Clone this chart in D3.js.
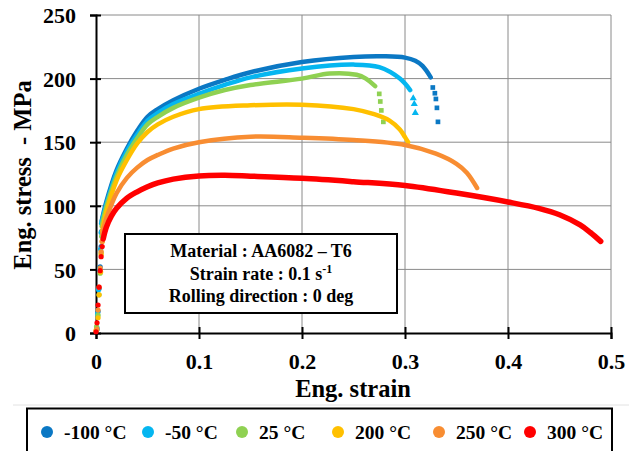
<!DOCTYPE html>
<html>
<head>
<meta charset="utf-8">
<script src="https://cdn.jsdelivr.net/npm/d3@7"></script>
<style>
  html, body { margin: 0; padding: 0; background: #fff; }
  svg { display: block; }
</style>
</head>
<body>
<svg id="chart" width="629" height="451"></svg>
<script>
// ── Data ─────────────────────────────────────────────────────────────
const SERIES = ["-100 °C", "-50 °C", "25 °C", "200 °C", "250 °C", "300 °C"];
const COLORS = ["#0B78C4", "#05B6F0", "#8FD152", "#FFC000", "#F88D32", "#FF0000"];
const TAIL_SHAPES = ["square", "triangle", "square", "circle", "circle", "circle"];

const X_TICKS = [0, 0.1, 0.2, 0.3, 0.4, 0.5];
const Y_TICKS = [0, 50, 100, 150, 200, 250];

// sparse elastic points [strain, stress]
const ELASTIC_M100 = [[0.001,3],[0.002,17],[0.003,35],[0.004,52],[0.005,68],[0.0055,80]];
const ELASTIC_M50  = [[0.001,4],[0.0015,15],[0.0025,34],[0.0035,50],[0.0045,66],[0.005,79]];
const ELASTIC_25   = [[0.0005,5],[0.002,14],[0.003,30],[0.004,47],[0.005,63],[0.0055,76]];
const ELASTIC_200  = [[0.0,2],[0.002,12],[0.003,30],[0.0045,48],[0.005,62],[0.006,72]];
const ELASTIC_250  = [[0.001,3],[0.002,18],[0.003,36],[0.004,51],[0.005,64],[0.006,72]];
const ELASTIC_300  = [[0.0,1],[0.001,8],[0.002,22],[0.003,36],[0.004,49],[0.005,60],[0.006,68]];

// dense plastic curves [strain, stress]
const CURVE_M100 = [[0.0055,88],[0.01,103],[0.02,128],[0.03,145],[0.04,159],[0.05,170],[0.06,176],[0.075,183],[0.1,192],[0.125,199],[0.15,205],[0.2,213],[0.25,217],[0.28,217.5],[0.3,216.5],[0.31,214],[0.317,210],[0.325,201]];
const CURVE_M50  = [[0.005,86],[0.01,101],[0.02,126],[0.03,143],[0.04,156],[0.05,167],[0.06,173],[0.075,180],[0.1,188],[0.125,195],[0.15,201],[0.2,208],[0.25,211],[0.275,209],[0.295,200],[0.305,191]];
const CURVE_25   = [[0.0055,84],[0.01,99],[0.02,123],[0.03,140],[0.04,153],[0.05,164],[0.06,170],[0.075,177],[0.1,185],[0.125,191],[0.15,195],[0.2,200],[0.227,204],[0.253,203],[0.262,200],[0.271,194]];
const CURVE_200  = [[0.006,80],[0.01,95],[0.02,120],[0.03,136],[0.04,149],[0.05,158],[0.06,164],[0.075,170],[0.1,176],[0.15,179],[0.2,179.5],[0.25,176],[0.27,172],[0.285,167],[0.295,160],[0.3,154],[0.303,150]];
const CURVE_250  = [[0.006,78],[0.01,90],[0.015,101],[0.02,110],[0.03,122],[0.04,130],[0.05,136],[0.06,140],[0.075,145],[0.1,150],[0.15,154.3],[0.2,153.5],[0.25,151.7],[0.3,147.8],[0.33,141],[0.35,133],[0.36,126],[0.37,114]];
const CURVE_300  = [[0.007,74],[0.01,83],[0.015,92],[0.02,98],[0.03,106],[0.04,111],[0.05,115],[0.06,118],[0.075,121],[0.1,123.5],[0.125,124],[0.15,123.3],[0.2,121.6],[0.25,119],[0.3,116],[0.35,110],[0.4,103],[0.43,98],[0.45,93],[0.47,85],[0.48,79],[0.49,72]];

// sparse fracture points [strain, stress]
const TAIL_M100 = [[0.327,193],[0.329,188.5],[0.330,184],[0.331,177],[0.332,166]];
const TAIL_M50  = [[0.308,184.5],[0.309,180],[0.310,173]];
const TAIL_25   = [[0.275,188],[0.276,182],[0.277,175],[0.279,166]];

const ELASTIC = [ELASTIC_M100, ELASTIC_M50, ELASTIC_25, ELASTIC_200, ELASTIC_250, ELASTIC_300];
const CURVES  = [CURVE_M100, CURVE_M50, CURVE_25, CURVE_200, CURVE_250, CURVE_300];
const TAILS   = [TAIL_M100, TAIL_M50, TAIL_25, [], [], []];

const NOTE_LINES = ["Material : AA6082 – T6", "Strain rate : 0.1 s", "Rolling direction : 0 deg"];

// ── Setup ───────────────────────────────────────────────────────────
const FONT = "Liberation Serif";
const svg = d3.select("#chart");
const x = d3.scaleLinear().domain([0, 0.5]).range([96, 611]);
const y = d3.scaleLinear().domain([0, 250]).range([333, 15]);

// grid
const grid = svg.append("g").attr("stroke", "#8a8a8a").attr("stroke-width", 1);
grid.selectAll("line.gx").data(X_TICKS.slice(1)).join("line")
  .attr("class", "gx")
  .attr("x1", d => x(d)).attr("x2", d => x(d))
  .attr("y1", y(250)).attr("y2", y(0));
grid.selectAll("line.gy").data(Y_TICKS.slice(1)).join("line")
  .attr("class", "gy")
  .attr("x1", x(0)).attr("x2", x(0.5))
  .attr("y1", d => y(d)).attr("y2", d => y(d));

// axes
const xAxis = d3.axisBottom(x).tickValues(X_TICKS).tickFormat(d => d === 0 ? "0" : d3.format(".1f")(d)).tickSize(6);
const yAxis = d3.axisLeft(y).tickValues(Y_TICKS).tickSize(6);

const gx = svg.append("g").attr("transform", `translate(0,${y(0)})`).call(xAxis);
const gy = svg.append("g").attr("transform", `translate(${x(0)},0)`).call(yAxis);
[gx, gy].forEach(g => {
  g.attr("font-family", FONT).attr("font-size", 22).attr("font-weight", "bold");
  g.select(".domain").attr("stroke", "#000").attr("stroke-width", 2);
  g.selectAll(".tick line").attr("stroke", "#000").attr("stroke-width", 2);
  g.selectAll("text").attr("fill", "#000");
});
gx.selectAll(".tick line").attr("y1", -6).attr("y2", 6);
gx.selectAll(".tick text").attr("y", 20);
gy.selectAll(".tick line").attr("x1", 5).attr("x2", -6);
gy.selectAll(".tick text").attr("x", -20).attr("dy", "0.35em");

// axis titles
svg.append("text").attr("x", 353).attr("y", 397).attr("text-anchor", "middle")
  .attr("font-family", FONT).attr("font-weight", "bold").attr("font-size", 24.5).text("Eng. strain");
svg.append("text").attr("transform", "translate(31,175) rotate(-90)").attr("text-anchor", "middle")
  .attr("font-family", FONT).attr("font-weight", "bold").attr("font-size", 24.5)
  .attr("xml:space", "preserve").text("Eng. stress  - MPa");

// ── Curves ─────────────────────────────────────────────────────────
const line = d3.line().x(d => x(d[0])).y(d => y(d[1])).curve(d3.curveCatmullRom.alpha(0.5));
const plot = svg.append("g");

SERIES.forEach((name, i) => {
  const g = plot.append("g");
  g.append("path").datum(CURVES[i])
    .attr("fill", "none").attr("stroke", COLORS[i])
    .attr("stroke-width", i === 5 ? 5.5 : 4.5).attr("stroke-linecap", "round")
    .attr("d", line);
  g.selectAll("circle").data(ELASTIC[i]).join("circle")
    .attr("cx", d => x(d[0])).attr("cy", d => y(d[1])).attr("r", 2.6).attr("fill", COLORS[i]);
  const shape = TAIL_SHAPES[i];
  const sym = d3.symbol().type(shape === "square" ? d3.symbolSquare : shape === "triangle" ? d3.symbolTriangle : d3.symbolCircle).size(22);
  g.selectAll("path.tail").data(TAILS[i]).join("path")
    .attr("class", "tail")
    .attr("transform", d => `translate(${x(d[0])},${y(d[1])})`)
    .attr("d", sym).attr("fill", COLORS[i]);
});

// ── Annotation box ──────────────────────────────────────────────────
svg.append("rect").attr("x", 125).attr("y", 234).attr("width", 272).attr("height", 79)
  .attr("fill", "#fff").attr("stroke", "#000").attr("stroke-width", 2);
const note = svg.append("g").attr("text-anchor", "middle");
NOTE_LINES.forEach((t, i) => {
  const tx = note.append("text").attr("x", 261).attr("y", 257 + i * 22.5)
    .attr("font-family", FONT).attr("font-weight", "bold").attr("font-size", 18);
  tx.append("tspan").text(t);
  if (i === 1) tx.append("tspan").attr("dy", -7).attr("font-size", 12).text("-1");
});

// ── Legend ──────────────────────────────────────────────────────────
svg.append("line").attr("x1", 13).attr("x2", 629).attr("y1", 405).attr("y2", 405)
  .attr("stroke", "#e2e2e2").attr("stroke-width", 1);
svg.append("rect").attr("x", 27).attr("y", 408.5).attr("width", 585).attr("height", 60)
  .attr("fill", "#fff").attr("stroke", "#000").attr("stroke-width", 2);
const LEG_X = [47, 148, 242, 338, 439, 530];
const leg = svg.append("g").selectAll("g").data(SERIES).join("g")
  .attr("transform", (d, i) => `translate(${LEG_X[i]},432)`);
leg.append("circle").attr("r", 6).attr("fill", (d, i) => COLORS[i]);
leg.append("text").attr("x", 17).attr("y", 7).attr("font-family", FONT).attr("font-weight", "bold")
  .attr("font-size", 19.5).text(d => d);
</script>
</body>
</html>
